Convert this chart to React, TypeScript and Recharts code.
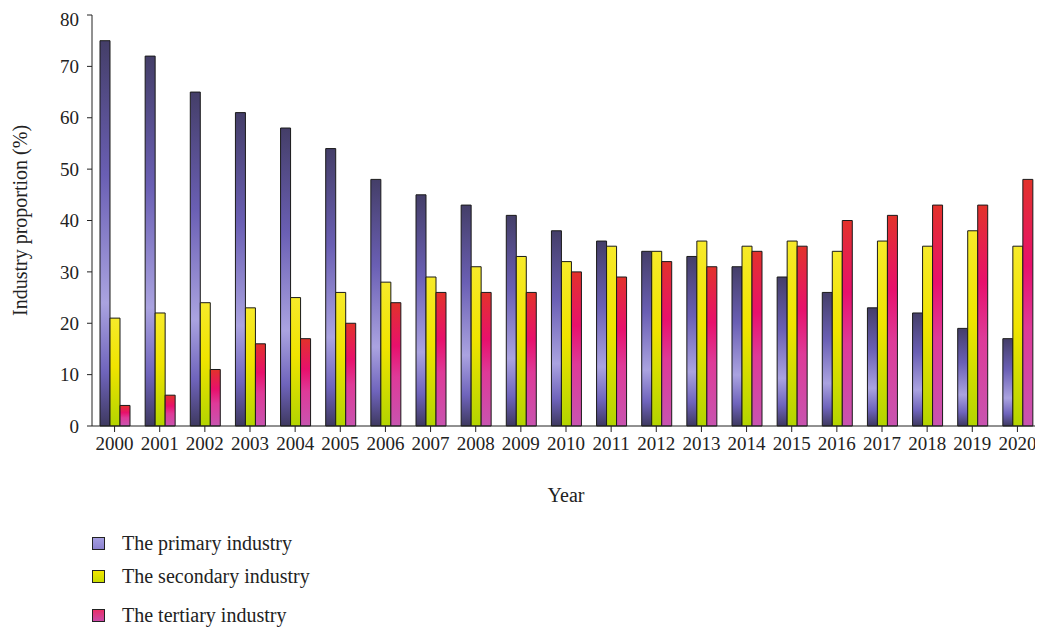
import { BarChart, Bar, XAxis, YAxis, Legend } from "recharts"

const years = ["2000", "2001", "2002", "2003", "2004", "2005", "2006", "2007", "2008", "2009", "2010", "2011", "2012", "2013", "2014", "2015", "2016", "2017", "2018", "2019", "2020"]
const primary = [75, 72, 65, 61, 58, 54, 48, 45, 43, 41, 38, 36, 34, 33, 31, 29, 26, 23, 22, 19, 17]
const secondary = [21, 22, 24, 23, 25, 26, 28, 29, 31, 33, 32, 35, 34, 36, 35, 36, 34, 36, 35, 38, 35]
const tertiary = [4, 6, 11, 16, 17, 20, 24, 26, 26, 26, 30, 29, 32, 31, 34, 35, 40, 41, 43, 43, 48]
const yTicks = [0, 10, 20, 30, 40, 50, 60, 70, 80]

const seriesNames = ["The primary industry", "The secondary industry", "The tertiary industry"]

const data = years.map((year, i) => ({
  year,
  primary: primary[i],
  secondary: secondary[i],
  tertiary: tertiary[i],
}))

const font = "'Liberation Serif', 'DejaVu Serif', serif"

// legend swatches are lighter than the bars
const swatchFills = [
  ["#a59ee0", "#8c82d0"],
  ["#f2e600", "#c8dc00"],
  ["#e8306a", "#cc4aa8"],
]

function LegendBox() {
  const tops = [0, 33, 72]
  return (
    <div style={{ position: "relative", height: 100, fontFamily: font, fontSize: 20, color: "#222" }}>
      {seriesNames.map((name, i) => (
        <div key={name} style={{ position: "absolute", top: tops[i], left: 0, display: "flex", alignItems: "center" }}>
          <div
            style={{
              width: 11,
              height: 11,
              marginRight: 17,
              border: "1px solid #222",
              background: `linear-gradient(${swatchFills[i][0]}, ${swatchFills[i][1]})`,
            }}
          />
          <span>{name}</span>
        </div>
      ))}
    </div>
  )
}

export default function App() {
  return (
    <div style={{ width: 1035, height: 625, position: "relative" }}>
      <BarChart
        width={1035}
        height={625}
        data={data}
        margin={{ top: 7, right: 3, left: 0, bottom: 31 }}
        barSize={10}
        barGap={0}
      >
        <defs>
          <linearGradient id="gPrimary" x1="0" y1="0" x2="0" y2="1">
            <stop offset="0%" stopColor="#443e68" />
            <stop offset="35%" stopColor="#6a5fb4" />
            <stop offset="68%" stopColor="#aaa3e0" />
            <stop offset="86%" stopColor="#6f64bc" />
            <stop offset="100%" stopColor="#3e3960" />
          </linearGradient>
          <linearGradient id="gSecondary" x1="0" y1="0" x2="0" y2="1">
            <stop offset="0%" stopColor="#f7ea2a" />
            <stop offset="45%" stopColor="#f0e400" />
            <stop offset="100%" stopColor="#b3d400" />
          </linearGradient>
          <linearGradient id="gTertiary" x1="0" y1="0" x2="0" y2="1">
            <stop offset="0%" stopColor="#e2322a" />
            <stop offset="35%" stopColor="#e8106c" />
            <stop offset="60%" stopColor="#de3a98" />
            <stop offset="100%" stopColor="#c854b0" />
          </linearGradient>
        </defs>
        <XAxis
          dataKey="year"
          height={76}
          stroke="#222"
          tickSize={6}
          tickMargin={5}
          tick={{ fill: "#222", fontSize: 19, fontFamily: font }}
          interval={0}
          label={{ value: "Year", position: "insideBottom", offset: 0, fill: "#222", fontSize: 20, fontFamily: font }}
        />
        <YAxis
          width={84}
          domain={[0, 80]}
          ticks={yTicks}
          stroke="#222"
          tickSize={5}
          tickMargin={8}
          tick={{ fill: "#222", fontSize: 19, fontFamily: font }}
          label={{ value: "Industry proportion (%)", angle: -90, position: "insideLeft", offset: 12, fill: "#222", fontSize: 20, fontFamily: font, style: { textAnchor: "middle" } }}
        />
        <Bar dataKey="primary" name={seriesNames[0]} fill="url(#gPrimary)" stroke="#1a1a1a" strokeWidth={1} isAnimationActive={false} />
        <Bar dataKey="secondary" name={seriesNames[1]} fill="url(#gSecondary)" stroke="#1a1a1a" strokeWidth={1} isAnimationActive={false} />
        <Bar dataKey="tertiary" name={seriesNames[2]} fill="url(#gTertiary)" stroke="#1a1a1a" strokeWidth={1} isAnimationActive={false} />
        <Legend
          content={<LegendBox />}
          wrapperStyle={{ position: "absolute", left: 84, top: 524, width: 400 }}
        />
      </BarChart>
    </div>
  )
}
